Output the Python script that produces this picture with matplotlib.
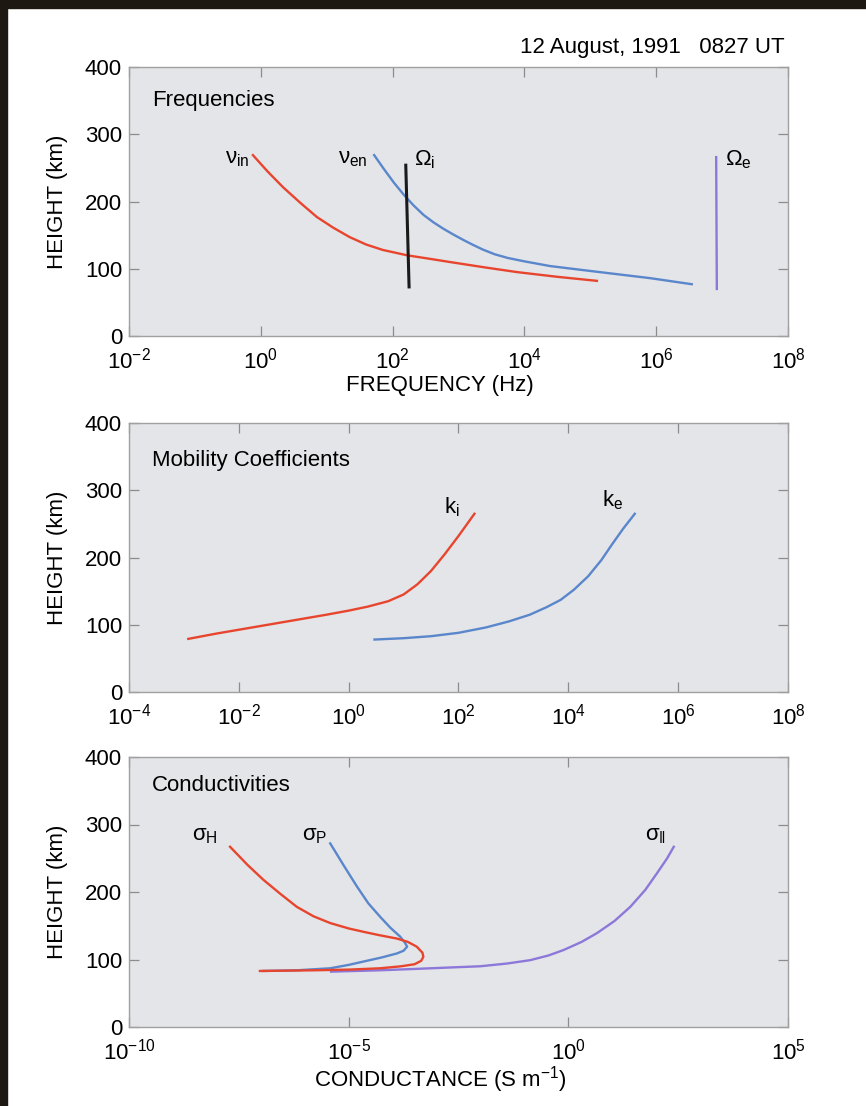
#!/usr/bin/env python3
"""
Ionospheric frequencies, mobility coefficients and conductivities
vs height, 12 August 1991 0827 UT.

Output: out.png
"""

import matplotlib

matplotlib.use("Agg")
import matplotlib.pyplot as plt
import numpy as np
from matplotlib.patches import Rectangle
from matplotlib.ticker import LogFormatterSciNotation, NullLocator

plt.rcParams["font.family"] = ["Liberation Sans", "DejaVu Sans"]
plt.rcParams["mathtext.default"] = "regular"

# Values. x values are kept as log10 exponents.

# ---- panel 1: frequencies (log10 Hz) vs height (km)
NU_IN_HEIGHT = [269, 245, 221, 198, 177, 161, 147, 136, 128, 120, 115,
                110, 102, 95, 88, 82]
NU_IN_LOGF = [-0.12, 0.10, 0.34, 0.60, 0.85, 1.10, 1.35, 1.60, 1.85, 2.22,
              2.55, 2.87, 3.40, 3.89, 4.50, 5.10]

NU_EN_HEIGHT = [269, 248, 228, 210, 194, 180, 169, 159.5, 151, 143, 135.5,
                128.5, 121.5, 116, 111, 104, 98, 92, 86, 77]
NU_EN_LOGF = [1.72, 1.87, 2.02, 2.17, 2.32, 2.47, 2.62, 2.77, 2.92, 3.07,
              3.22, 3.37, 3.55, 3.75, 4.00, 4.39, 4.89, 5.40, 5.91, 6.54]

OMEGA_I_HEIGHT = [254, 73]
OMEGA_I_LOGF = [2.20, 2.25]

OMEGA_E_HEIGHT = [266, 70]
OMEGA_E_LOGF = [6.91, 6.92]

# ---- panel 2: mobility coefficients (log10) vs height
K_I_HEIGHT = [79, 87, 94, 101, 108, 115, 121, 127, 135, 145, 160, 180, 205,
              232, 265]
K_I_LOG = [-2.92, -2.40, -1.90, -1.40, -0.90, -0.40, 0.00, 0.35, 0.72, 1.00,
           1.25, 1.50, 1.75, 2.00, 2.29]

K_E_HEIGHT = [78, 80, 83, 88, 96, 105, 115, 126, 137, 152, 172, 196, 220,
              243, 265]
K_E_LOG = [0.47, 1.00, 1.50, 2.00, 2.50, 2.92, 3.30, 3.60, 3.86, 4.10, 4.36,
           4.60, 4.80, 5.00, 5.21]

# ---- panel 3: conductivities (log10 S/m) vs height
SIGMA_H_HEIGHT = [267, 240, 218, 197, 178, 164, 154, 146, 141, 136, 131, 126,
                  119, 110, 104, 98, 93, 90, 87, 85, 84, 83]
SIGMA_H_LOG = [-7.70, -7.30, -6.94, -6.55, -6.18, -5.80, -5.42, -5.00, -4.66,
               -4.30, -3.90, -3.65, -3.45, -3.32, -3.30, -3.35, -3.50, -3.80,
               -4.28, -5.00, -5.80, -7.02]

SIGMA_P_HEIGHT = [272, 238, 208, 183, 163, 147, 134, 125, 119, 113, 109, 103,
                  97, 92, 87, 84, 83]
SIGMA_P_LOG = [-5.42, -5.10, -4.81, -4.55, -4.28, -4.05, -3.83, -3.72, -3.67,
               -3.75, -3.90, -4.25, -4.66, -5.00, -5.42, -6.18, -6.95]

SIGMA_PAR_HEIGHT = [82, 84, 86, 90, 94, 99, 106, 114, 126, 139, 157, 178, 203,
                    228, 250, 267]
SIGMA_PAR_LOG = [-5.40, -4.30, -3.50, -2.00, -1.40, -0.87, -0.45, -0.11, 0.30,
                 0.65, 1.05, 1.41, 1.75, 2.02, 2.25, 2.40]

RED = "#e8452e"
BLUE = "#5a86cc"
PURPLE = "#8d78da"
FONT = 16

W, H = 866, 1106


def pw(values):
    return np.power(10.0, values)


def setup_axes(ax, xlim, xticks, title, title_y):
    ax.set_facecolor("#e3e5e8")
    ax.set_xscale("log")
    ax.set_xlim(*xlim)
    ax.set_ylim(0, 400)
    ax.set_xticks(xticks)
    ax.xaxis.set_minor_locator(NullLocator())
    ax.xaxis.set_major_formatter(LogFormatterSciNotation())
    ax.set_yticks([0, 100, 200, 300, 400])
    ax.tick_params(direction="in", length=7, width=0.9, color="#8c8c8c",
                   top=True, right=True, labelsize=FONT)
    ax.tick_params(axis="y", pad=5)
    ax.tick_params(axis="x", pad=8)
    for sp in ax.spines.values():
        sp.set_color("#a0a0a0")
        sp.set_linewidth(1.0)
    ax.text(0.035, title_y, title, transform=ax.transAxes, fontsize=FONT,
            ha="left", va="center")


def main():
    fig = plt.figure(figsize=(W / 100, H / 100), dpi=100)

    left = 129 / W
    width = 659 / W
    ax1 = fig.add_axes([left, 1 - 336 / H, width, 269 / H])
    ax2 = fig.add_axes([left, 1 - 692 / H, width, 269 / H])
    ax3 = fig.add_axes([left, 1 - 1027 / H, width, 270 / H])

    # panel 1
    setup_axes(ax1, (1e-2, 1e8), [10.0 ** k for k in range(-2, 9, 2)],
               "Frequencies", 0.877)
    ax1.plot(pw(NU_IN_LOGF), NU_IN_HEIGHT, color=RED, lw=1.7)
    ax1.plot(pw(NU_EN_LOGF), NU_EN_HEIGHT, color=BLUE, lw=1.7)
    ax1.plot(pw(OMEGA_I_LOGF), OMEGA_I_HEIGHT, color="#1a1a1a", lw=2.2)
    ax1.plot(pw(OMEGA_E_LOGF), OMEGA_E_HEIGHT, color=PURPLE, lw=1.7)
    ax1.text(10 ** -0.17, 264, r"$\nu_{in}$", fontsize=FONT, ha="right",
             va="center")
    ax1.text(10 ** 1.62, 264, r"$\nu_{en}$", fontsize=FONT, ha="right",
             va="center")
    ax1.text(10 ** 2.32, 262, r"$\Omega_i$", fontsize=FONT, ha="left",
             va="center")
    ax1.text(10 ** 7.04, 262, r"$\Omega_e$", fontsize=FONT, ha="left",
             va="center")

    # panel 2
    setup_axes(ax2, (1e-4, 1e8), [10.0 ** k for k in range(-4, 9, 2)],
               "Mobility Coefficients", 0.859)
    ax2.plot(pw(K_I_LOG), K_I_HEIGHT, color=RED, lw=1.7)
    ax2.plot(pw(K_E_LOG), K_E_HEIGHT, color=BLUE, lw=1.7)
    ax2.text(10 ** 2.03, 275, r"k$_i$", fontsize=FONT, ha="right",
             va="center")
    ax2.text(10 ** 4.62, 285, r"k$_e$", fontsize=FONT, ha="left",
             va="center")

    # panel 3
    setup_axes(ax3, (1e-10, 1e5), [10.0 ** k for k in range(-10, 6, 5)],
               "Conductivities", 0.896)
    ax3.plot(pw(SIGMA_PAR_LOG), SIGMA_PAR_HEIGHT, color=PURPLE, lw=1.7)
    ax3.plot(pw(SIGMA_P_LOG), SIGMA_P_HEIGHT, color=BLUE, lw=1.7)
    ax3.plot(pw(SIGMA_H_LOG), SIGMA_H_HEIGHT, color=RED, lw=1.7)
    ax3.text(10 ** -8.57, 284, r"$\sigma_H$", fontsize=FONT, ha="left",
             va="center")
    ax3.text(10 ** -6.07, 284, r"$\sigma_P$", fontsize=FONT, ha="left",
             va="center")
    ax3.text(10 ** 1.75, 284, r"$\sigma_{\|}$", fontsize=FONT,
             ha="left", va="center")

    # shared text
    for yc in (201.5, 557.5, 892):
        fig.text(57 / W, 1 - yc / H, "HEIGHT (km)", rotation=90,
                 fontsize=FONT, ha="center", va="center")
    fig.text(440 / W, 1 - 386 / H, "FREQUENCY (Hz)", fontsize=FONT,
             ha="center", va="center")
    fig.text(440 / W, 1 - 1080 / H, r"CONDUCTANCE (S m$^{-1}$)",
             fontsize=FONT, ha="center", va="center")
    fig.text(785 / W, 1 - 47 / H, "12 August, 1991   0827 UT",
             fontsize=FONT, ha="right", va="center")

    # dark photo border on the left and top
    fig.patches.append(Rectangle((0, 1 - 8 / H), 1, 8 / H,
                                 transform=fig.transFigure,
                                 color="#1e1812", zorder=10))
    fig.patches.append(Rectangle((0, 0), 7 / W, 1,
                                 transform=fig.transFigure,
                                 color="#1e1812", zorder=10))

    fig.savefig("out.png", dpi=100)
    plt.close(fig)


if __name__ == "__main__":
    main()
